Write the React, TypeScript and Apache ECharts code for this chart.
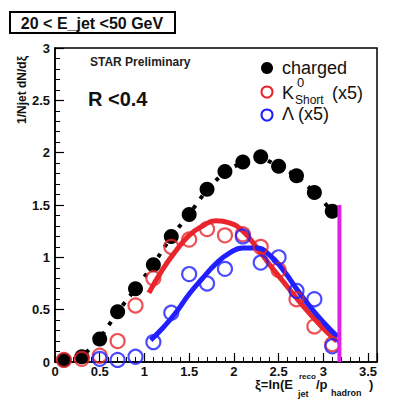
import React, { useEffect, useRef } from "react";
import * as echarts from "echarts";

const charged: [number, number][] = [
  [0.1, 0.02], [0.3, 0.05], [0.5, 0.22], [0.7, 0.48], [0.9, 0.7], [1.1, 0.93],
  [1.3, 1.2], [1.5, 1.41], [1.7, 1.65], [1.9, 1.82], [2.1, 1.91], [2.3, 1.96],
  [2.5, 1.87], [2.7, 1.78], [2.9, 1.62], [3.1, 1.44],
];
const k0short: [number, number][] = [
  [0.1, 0.02], [0.3, 0.03], [0.5, 0.06], [0.7, 0.2], [0.9, 0.54], [1.1, 0.8],
  [1.3, 1.1], [1.5, 1.17], [1.7, 1.27], [1.9, 1.21], [2.1, 1.22], [2.3, 1.1],
  [2.5, 0.88], [2.7, 0.6], [2.9, 0.34], [3.1, 0.17],
];
const lambda: [number, number][] = [
  [0.5, 0.03], [0.7, 0.02], [0.9, 0.05], [1.1, 0.19], [1.3, 0.47], [1.5, 0.84],
  [1.7, 0.75], [1.9, 0.89], [2.1, 1.2], [2.3, 0.95], [2.5, 1.0], [2.7, 0.68],
  [2.9, 0.6], [3.1, 0.15],
];
const k0Fit: [number, number][] = [
  [1.05, 0.66], [1.2, 0.88], [1.35, 1.06], [1.5, 1.21], [1.65, 1.3], [1.8, 1.35],
  [1.95, 1.33], [2.1, 1.25], [2.25, 1.1], [2.4, 0.93], [2.55, 0.77], [2.7, 0.61],
  [2.85, 0.46], [3.0, 0.32], [3.15, 0.2],
];
const lambdaFit: [number, number][] = [
  [1.07, 0.21], [1.2, 0.32], [1.35, 0.47], [1.5, 0.65], [1.65, 0.8], [1.8, 0.94],
  [1.95, 1.04], [2.1, 1.09], [2.25, 1.09], [2.4, 1.02], [2.55, 0.88], [2.7, 0.7],
  [2.85, 0.53], [3.0, 0.38], [3.16, 0.24],
];
const cutLine: [number, number][] = [[3.18, 0], [3.18, 1.5]];
const xTicks = [0, 0.5, 1, 1.5, 2, 2.5, 3, 3.5];
const yTicks = [0, 0.5, 1, 1.5, 2, 2.5, 3];

const RED = "#e8262c";
const BLUE = "#1f1fff";
const FONT = "Liberation Sans, Arial, sans-serif";

export default function App() {
  const ref = useRef<HTMLDivElement>(null);
  useEffect(() => {
    if (!ref.current) return;
    const chart = echarts.init(ref.current, undefined, { renderer: "svg" });
    const fmt = (v: number) => (xTicks.includes(v) || yTicks.includes(v) ? String(v) : "");
    chart.setOption({
      animation: false,
      backgroundColor: "#ffffff",
      grid: { left: 55, right: 18, top: 48, bottom: 48, show: true, borderColor: "#000", borderWidth: 1.5 },
      xAxis: {
        type: "value", min: 0, max: 3.6, interval: 0.5,
        axisLine: { onZero: false, lineStyle: { color: "#000", width: 1.5 } },
        axisTick: { inside: true, length: 9, lineStyle: { color: "#000", width: 1.2 } },
        minorTick: { show: true, splitNumber: 5, length: 5, lineStyle: { color: "#000", width: 1 } },
        splitLine: { show: false },
        axisLabel: { formatter: fmt, color: "#111", fontFamily: FONT, fontWeight: "bold", fontSize: 13, margin: 3, showMaxLabel: false },
      },
      yAxis: {
        type: "value", min: 0, max: 3, interval: 0.5,
        axisLine: { lineStyle: { color: "#000", width: 1.5 } },
        axisTick: { inside: true, length: 9, lineStyle: { color: "#000", width: 1.2 } },
        minorTick: { show: true, splitNumber: 5, length: 5, lineStyle: { color: "#000", width: 1 } },
        splitLine: { show: false },
        axisLabel: { formatter: fmt, color: "#111", fontFamily: FONT, fontWeight: "bold", fontSize: 13, margin: 5 },
      },
      series: [
        {
          type: "line", data: k0Fit, showSymbol: false, smooth: true, z: 2,
          lineStyle: { color: RED, width: 5 },
        },
        {
          type: "line", data: lambdaFit, showSymbol: false, smooth: true, z: 3,
          lineStyle: { color: BLUE, width: 5 },
        },
        {
          type: "line", data: charged, symbol: "circle", symbolSize: 15, z: 4,
          itemStyle: { color: "#000" },
          lineStyle: { color: "#000", width: 4, type: [4, 8] },
        },
        {
          type: "scatter", data: k0short, symbol: "circle", symbolSize: 14, z: 5,
          itemStyle: { color: "rgba(0,0,0,0)", borderColor: RED, borderWidth: 2.2 },
        },
        {
          type: "scatter", data: lambda, symbol: "circle", symbolSize: 14, z: 6,
          itemStyle: { color: "rgba(0,0,0,0)", borderColor: BLUE, borderWidth: 2.2 },
        },
        {
          type: "line", data: cutLine, showSymbol: false, z: 7,
          lineStyle: { color: "#e020e8", width: 4 },
        },
      ],
      graphic: [
        { type: "rect", shape: { x: 10, y: 12, width: 165, height: 21 }, style: { fill: "#fff", stroke: "#000", lineWidth: 2 } },
        { type: "text", x: 92, y: 23, style: { text: "20 < E_jet <50 GeV", font: `bold 16px ${FONT}`, fill: "#111", textAlign: "center", textVerticalAlign: "middle" } },
        { type: "text", x: 90, y: 56, style: { text: "STAR Preliminary", font: `bold 12px ${FONT}`, fill: "#222" } },
        { type: "text", x: 88, y: 89, style: { text: "R <0.4", font: `bold 20px ${FONT}`, fill: "#111" } },
        { type: "text", x: 22, y: 90, rotation: Math.PI / 2, style: { text: "1/Njet dN/dξ", font: `bold 12px ${FONT}`, fill: "#111", textAlign: "center", textVerticalAlign: "middle" } },
        { type: "circle", shape: { cx: 267, cy: 68, r: 6 }, style: { fill: "#000" } },
        { type: "text", x: 282, y: 68, style: { text: "charged", font: `18px ${FONT}`, fill: "#111", textVerticalAlign: "middle" } },
        { type: "circle", shape: { cx: 267, cy: 92, r: 5.5 }, style: { fill: "none", stroke: RED, lineWidth: 2 } },
        { type: "text", x: 282, y: 93, style: { text: "K", font: `18px ${FONT}`, fill: "#111", textVerticalAlign: "middle" } },
        { type: "text", x: 297, y: 82, style: { text: "0", font: `13px ${FONT}`, fill: "#111", textVerticalAlign: "middle" } },
        { type: "text", x: 295, y: 100, style: { text: "Short", font: `12px ${FONT}`, fill: "#111", textVerticalAlign: "middle" } },
        { type: "text", x: 332, y: 93, style: { text: "(x5)", font: `18px ${FONT}`, fill: "#111", textVerticalAlign: "middle" } },
        { type: "circle", shape: { cx: 267, cy: 115, r: 5.5 }, style: { fill: "none", stroke: BLUE, lineWidth: 2 } },
        { type: "text", x: 282, y: 114, style: { text: "Λ (x5)", font: `18px ${FONT}`, fill: "#111", textVerticalAlign: "middle" } },
        { type: "text", x: 255, y: 384, style: { text: "ξ=ln(E", font: `bold 13px ${FONT}`, fill: "#111", textVerticalAlign: "middle" } },
        { type: "text", x: 299, y: 376, style: { text: "reco", font: `bold 8px ${FONT}`, fill: "#111", textVerticalAlign: "middle" } },
        { type: "text", x: 298, y: 394, style: { text: "jet", font: `bold 9px ${FONT}`, fill: "#111", textVerticalAlign: "middle" } },
        { type: "text", x: 316, y: 384, style: { text: "/p", font: `bold 13px ${FONT}`, fill: "#111", textVerticalAlign: "middle" } },
        { type: "text", x: 331, y: 393, style: { text: "hadron", font: `bold 9px ${FONT}`, fill: "#111", textVerticalAlign: "middle" } },
        { type: "text", x: 369, y: 384, style: { text: ")", font: `bold 13px ${FONT}`, fill: "#111", textVerticalAlign: "middle" } },
      ],
    });
    return () => chart.dispose();
  }, []);
  return <div ref={ref} style={{ position: "fixed", left: 0, top: 0, width: 395, height: 410 }} />;
}
